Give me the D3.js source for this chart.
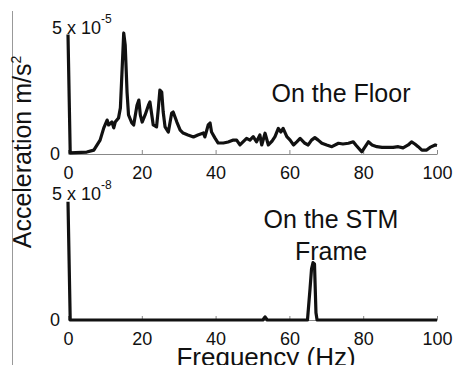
<!DOCTYPE html>
<html>
<head>
<meta charset="utf-8">
<script src="https://cdn.jsdelivr.net/npm/d3@7"></script>
<style>
  body { margin: 0; background: #fff; }
  svg { display: block; font-family: Arial, 'Liberation Sans', sans-serif; }
</style>
</head>
<body>
<div id="chart"></div>
<script>
// frequency ticks (Hz)
const freqTicks = [0, 20, 40, 60, 80, 100];

// On the Floor: frequency (Hz) and acceleration (x 10^-5 m/s^2)
const floorFreq = [0, 0.6, 5.1, 7.0, 8.7, 9.7, 10.6, 11.0, 11.9, 12.4, 12.8, 13.7, 14.2, 14.6, 15.1, 15.5, 16.0, 16.4,
  17.3, 17.8, 18.7, 19.2, 19.6, 20.1, 20.9, 21.8, 22.2, 23.1, 24.0, 24.5, 24.9, 25.4, 25.8, 26.3, 27.2, 28.1, 28.5,
  29.5, 30.4, 31.2, 32.5, 34.0, 35.2, 36.7, 37.1, 38.0, 38.5, 38.9, 39.8, 40.7, 42.1, 43.4, 44.8, 45.7, 46.6, 48.4,
  49.3, 50.2, 51.1, 52.0, 52.5, 53.4, 54.3, 55.3, 56.1, 57.0, 57.7, 58.3, 59.3, 60.2, 61.1, 62.0, 62.9, 64.2, 65.1,
  66.0, 66.9, 67.8, 68.8, 70.1, 71.5, 73.3, 74.5, 76.0, 77.3, 78.0, 79.6, 81.4, 82.4, 83.7, 85.1, 86.8, 88.1, 89.5,
  90.8, 92.2, 93.1, 94.0, 94.9, 95.9, 97.2, 98.1, 99.5, 100];
const floorAccel = [4.9, 0.05, 0.08, 0.16, 0.57, 1.07, 1.39, 1.19, 1.31, 1.07, 1.31, 1.48, 1.89, 3.24, 4.96, 4.47, 2.54, 1.6,
  1.27, 1.19, 2.0, 2.21, 1.6, 1.31, 1.6, 2.0, 2.13, 1.19, 1.11, 1.89, 2.62, 2.54, 1.72, 1.11, 0.9, 1.68, 1.72,
  1.31, 0.98, 0.86, 0.78, 0.7, 0.78, 0.86, 0.7, 1.19, 1.27, 0.9, 0.66, 0.45, 0.45, 0.49, 0.57, 0.57, 0.37, 0.64,
  0.57, 0.71, 0.5, 0.78, 0.37, 0.85, 0.37, 0.53, 0.71, 1.05, 0.9, 1.05, 0.71, 0.57, 0.37, 0.5, 0.64, 0.44, 0.37,
  0.57, 0.67, 0.57, 0.44, 0.37, 0.3, 0.44, 0.41, 0.44, 0.5, 0.37, 0.09, 0.5, 0.37, 0.3, 0.27, 0.27, 0.27, 0.3,
  0.25, 0.37, 0.5, 0.41, 0.3, 0.16, 0.16, 0.27, 0.37, 0.35];

// On the STM Frame: frequency (Hz) and acceleration (x 10^-8 m/s^2)
const frameFreq = [0, 0.6, 52.8, 53.4, 54.0, 64.9, 65.6, 66.0, 66.4, 66.8, 67.2, 67.5, 100];
const frameAccel = [4.85, 0.0, 0.0, 0.13, 0.0, 0.0, 1.3, 2.1, 2.35, 2.3, 0.3, 0.0, 0.0];

const width = 458;
const height = 365;

const svg = d3.select('#chart').append('svg')
  .attr('width', width)
  .attr('height', height);

/* Scale */
const xScale = d3.scaleLinear()
  .domain([0, 100])
  .range([68, 437]);

// thin frame line on the left
svg.append('line')
  .attr('x1', 12.5).attr('x2', 12.5)
  .attr('y1', 11).attr('y2', height)
  .attr('stroke', '#999')
  .attr('stroke-width', 1);

function drawPanel(freq, accel, y0, y1, expo) {
  const yScale = d3.scaleLinear()
    .domain([0, 5])
    .range([y0, y1]);

  const g = svg.append('g');

  /* x axis */
  const xAxis = d3.axisBottom(xScale)
    .tickValues(freqTicks)
    .tickFormat(d3.format('d'))
    .tickSizeInner(-4)
    .tickSizeOuter(0)
    .tickPadding(12);
  const ax = g.append('g')
    .attr('transform', `translate(0, ${y0})`)
    .call(xAxis);
  ax.select('.domain').attr('stroke', '#888');
  ax.selectAll('.tick line').attr('stroke', '#888');
  ax.selectAll('.tick text')
    .attr('fill', '#111')
    .style('font-size', '18px')
    .style('font-family', 'Arial, "Liberation Sans", sans-serif');

  /* y axis: only the zero label */
  const yAxis = d3.axisLeft(yScale)
    .tickValues([0])
    .tickFormat(d3.format('d'))
    .tickSize(0)
    .tickPadding(8);
  const ay = g.append('g')
    .attr('transform', 'translate(68, 0)')
    .call(yAxis);
  ay.select('.domain').remove();
  ay.selectAll('.tick text')
    .attr('fill', '#111')
    .style('font-size', '18px')
    .style('font-family', 'Arial, "Liberation Sans", sans-serif');

  // "5 x 10^-n" multiplier
  const m = g.append('text')
    .attr('x', 52)
    .attr('y', yScale(5) + 2)
    .attr('fill', '#111')
    .style('font-size', '18px');
  m.append('tspan').text('5 x 10');
  m.append('tspan')
    .attr('dy', -11)
    .style('font-size', '12px')
    .text('-' + expo);

  /* line */
  const line = d3.line()
    .x(d => xScale(d[0]))
    .y(d => yScale(d[1]));

  g.append('path')
    .datum(d3.zip(freq, accel))
    .attr('fill', 'none')
    .attr('stroke', '#111')
    .attr('stroke-width', 3.2)
    .attr('stroke-linejoin', 'round')
    .attr('d', line);
}

drawPanel(floorFreq, floorAccel, 154, 32, 5);
drawPanel(frameFreq, frameAccel, 320, 198, 8);

// panel titles
svg.append('text')
  .attr('x', 341).attr('y', 102)
  .attr('text-anchor', 'middle')
  .attr('fill', '#111')
  .style('font-size', '25px')
  .text('On the Floor');

svg.append('text')
  .attr('x', 331).attr('y', 228)
  .attr('text-anchor', 'middle')
  .attr('fill', '#111')
  .style('font-size', '25px')
  .text('On the STM');

svg.append('text')
  .attr('x', 331).attr('y', 260)
  .attr('text-anchor', 'middle')
  .attr('fill', '#111')
  .style('font-size', '25px')
  .text('Frame');

// axis labels
const yl = svg.append('text')
  .attr('transform', 'translate(31, 152) rotate(-90)')
  .attr('text-anchor', 'middle')
  .attr('fill', '#111')
  .style('font-size', '25px');
yl.append('tspan').text('Acceleration m/s');
yl.append('tspan')
  .attr('dy', -10)
  .style('font-size', '14px')
  .text('2');

svg.append('text')
  .attr('x', 266).attr('y', 366)
  .attr('text-anchor', 'middle')
  .attr('fill', '#111')
  .style('font-size', '26px')
  .text('Frequency (Hz)');
</script>
</body>
</html>
